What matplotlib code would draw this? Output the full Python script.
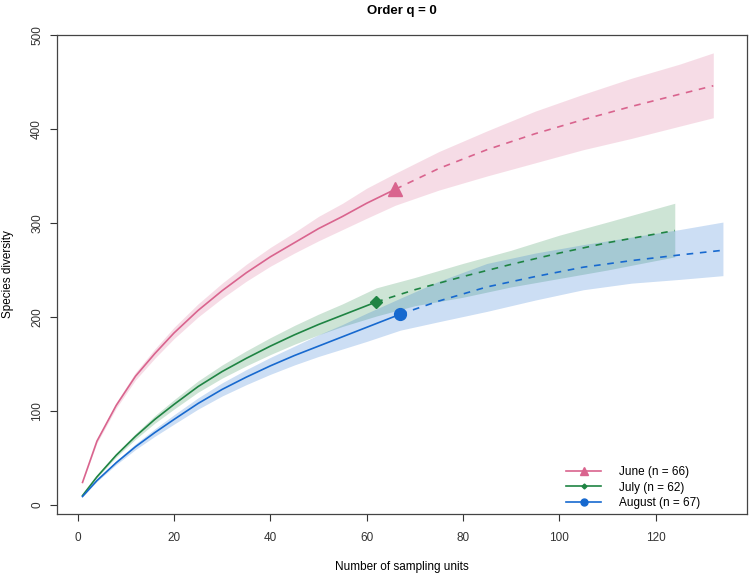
import matplotlib
matplotlib.use("Agg")
import matplotlib.pyplot as plt
from matplotlib.lines import Line2D

plt.rcParams['font.family'] = ['Liberation Sans', 'DejaVu Sans']

# June (n = 66)
june_x_obs = [1, 4, 8, 12, 16, 20, 25, 30, 35, 40, 45, 50, 55, 60, 66]
june_y_obs = [24, 68, 106, 137, 161, 183, 207, 228, 247, 264, 279, 294, 307, 321, 336]
june_lo_obs = [24, 66, 103, 133, 156, 177, 200, 220, 238, 254, 268, 281, 293, 305, 319]
june_hi_obs = [24, 70, 109, 141, 166, 189, 214, 236, 256, 274, 290, 307, 321, 337, 353]
june_x_ext = [66, 75, 85, 95, 105, 115, 125, 132]
june_y_ext = [336, 358, 378, 395, 410, 424, 437, 446]
june_lo_ext = [319, 335, 350, 364, 378, 390, 403, 412]
june_hi_ext = [353, 376, 398, 419, 437, 454, 469, 481]

# July (n = 62)
july_x_obs = [1, 4, 8, 12, 16, 20, 25, 30, 35, 40, 45, 50, 55, 62]
july_y_obs = [10, 30, 53, 73, 91, 107, 126, 142, 156, 169, 181, 192, 202, 216]
july_lo_obs = [10, 29, 51, 70, 87, 102, 120, 135, 148, 160, 171, 181, 190, 201]
july_hi_obs = [10, 31, 55, 76, 95, 112, 132, 149, 164, 178, 191, 203, 214, 231]
july_x_ext = [62, 70, 80, 90, 100, 110, 124]
july_y_ext = [216, 229, 243, 256, 268, 279, 292]
july_lo_ext = [201, 212, 221, 232, 241, 250, 264]
july_hi_ext = [231, 242, 257, 271, 287, 301, 321]

# August (n = 67)
aug_x_obs = [1, 4, 8, 12, 16, 20, 25, 30, 35, 40, 45, 50, 55, 60, 67]
aug_y_obs = [9, 26, 45, 62, 77, 91, 108, 123, 136, 148, 159, 169, 179, 189, 203]
aug_lo_obs = [9, 25, 43, 59, 73, 86, 102, 116, 128, 139, 149, 158, 166, 174, 186]
aug_hi_obs = [9, 27, 47, 65, 81, 96, 114, 130, 144, 157, 169, 181, 192, 204, 220]
aug_x_ext = [67, 75, 85, 95, 105, 115, 125, 134]
aug_y_ext = [203, 217, 232, 243, 253, 260, 266, 271]
aug_lo_ext = [186, 195, 206, 218, 229, 236, 240, 244]
aug_hi_ext = [220, 238, 257, 268, 277, 285, 293, 301]

labels = ["June (n = 66)", "July (n = 62)", "August (n = 67)"]
colors = ["#D9648E", "#1F8443", "#1769CF"]
markers = ["^", "D", "o"]
msizes = [10, 6.5, 8.5]

series = [
    (june_x_obs, june_y_obs, june_lo_obs, june_hi_obs, june_x_ext, june_y_ext, june_lo_ext, june_hi_ext),
    (july_x_obs, july_y_obs, july_lo_obs, july_hi_obs, july_x_ext, july_y_ext, july_lo_ext, july_hi_ext),
    (aug_x_obs, aug_y_obs, aug_lo_obs, aug_hi_obs, aug_x_ext, aug_y_ext, aug_lo_ext, aug_hi_ext),
]

fig = plt.figure(figsize=(7.5, 5.74), dpi=100)
ax = fig.add_axes([0.076, 0.1045, 0.92, 0.8345])

# confidence bands first, so the lines sit on top
for (xo, yo, lo, hi, xe, ye, le, he), c in zip(series, colors):
    ax.fill_between(xo + xe[1:], lo + le[1:], hi + he[1:], color=c, alpha=0.22, lw=0)

for (xo, yo, lo, hi, xe, ye, le, he), c, m, ms in zip(series, colors, markers, msizes):
    ax.plot(xo, yo, color=c, lw=1.2)
    ax.plot(xe, ye, color=c, lw=1.2, ls=(0, (4, 4)))
    ax.plot([xo[-1]], [yo[-1]], marker=m, color=c, ms=ms, ls="none")

ax.set_xlim(-4.3, 139)
ax.set_ylim(-9.6, 500)
ax.set_xticks([0, 20, 40, 60, 80, 100, 120])
ax.set_yticks([0, 100, 200, 300, 400, 500])
for lab in ax.get_yticklabels():
    lab.set_rotation(90)
    lab.set_va("center")
ax.tick_params(direction="out", length=5, width=0.8, labelsize=8.5, colors="#333333")
ax.tick_params(axis="x", pad=8)
ax.tick_params(axis="y", pad=5)
for sp in ax.spines.values():
    sp.set_color("#444444")
    sp.set_linewidth(0.9)

ax.set_xlabel("Number of sampling units", fontsize=8.5, labelpad=12)
ax.set_ylabel("Species diversity", fontsize=8.5, labelpad=12)
ax.set_title("Order q = 0", fontsize=9.5, fontweight="bold", pad=15)

handles = [
    Line2D([], [], color=colors[0], marker="^", ms=6, lw=1.2),
    Line2D([], [], color=colors[1], marker="D", ms=2.5, lw=1.2),
    Line2D([], [], color=colors[2], marker="o", ms=5, lw=1.2),
]
ax.legend(handles, labels, loc="lower left", frameon=False, fontsize=8.5,
          handlelength=3.0, handletextpad=1.5, labelspacing=0.3,
          bbox_to_anchor=(0.722, -0.012))

fig.savefig("out.png", dpi=100)
